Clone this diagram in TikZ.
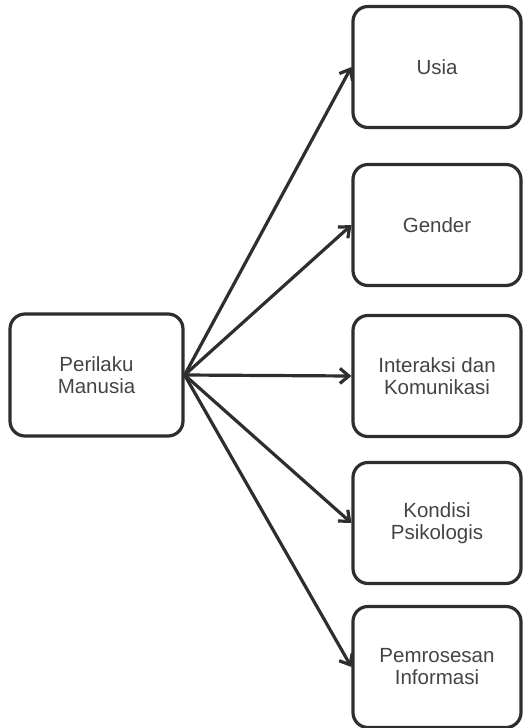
\documentclass[tikz,border=0pt]{standalone}
\usepackage{fontspec}
\setmainfont{Liberation Sans}
\usetikzlibrary{arrows.meta}
\definecolor{garis}{HTML}{2E2E2E}
\definecolor{tulisan}{HTML}{444444}

\begin{document}
\begin{tikzpicture}[x=1pt, y=-1pt,
    kotak/.style={draw=garis, line width=3.2pt, rounded corners=15pt, align=center,
        text=tulisan, font=\fontsize{20.5}{22}\selectfont, inner sep=0pt},
    kiri/.style={kotak, minimum width=173pt, minimum height=122pt},
    kanan/.style={kotak, minimum width=168pt, minimum height=121pt},
    panah/.style={draw=garis, line width=3.2pt, -{Straight Barb[length=9pt, width=15pt]}}]
    \useasboundingbox (0,0) rectangle (523,728);
    \node[kiri] (perilaku) at (96.5,375) {Perilaku\\Manusia};
    \node[kanan] (usia) at (437,67) {Usia};
    \node[kanan] (gender) at (437,225) {Gender};
    \node[kanan] (interaksi) at (437,376) {Interaksi dan\\Komunikasi};
    \node[kanan] (kondisi) at (437,523) {Kondisi\\Psikologis};
    \node[kanan] (pemrosesan) at (437,667) {Pemrosesan\\Informasi};
    \foreach \b in {usia,gender,interaksi,kondisi,pemrosesan}
        \draw[panah] (perilaku.east) -- (\b.west);
\end{tikzpicture}
\end{document}
